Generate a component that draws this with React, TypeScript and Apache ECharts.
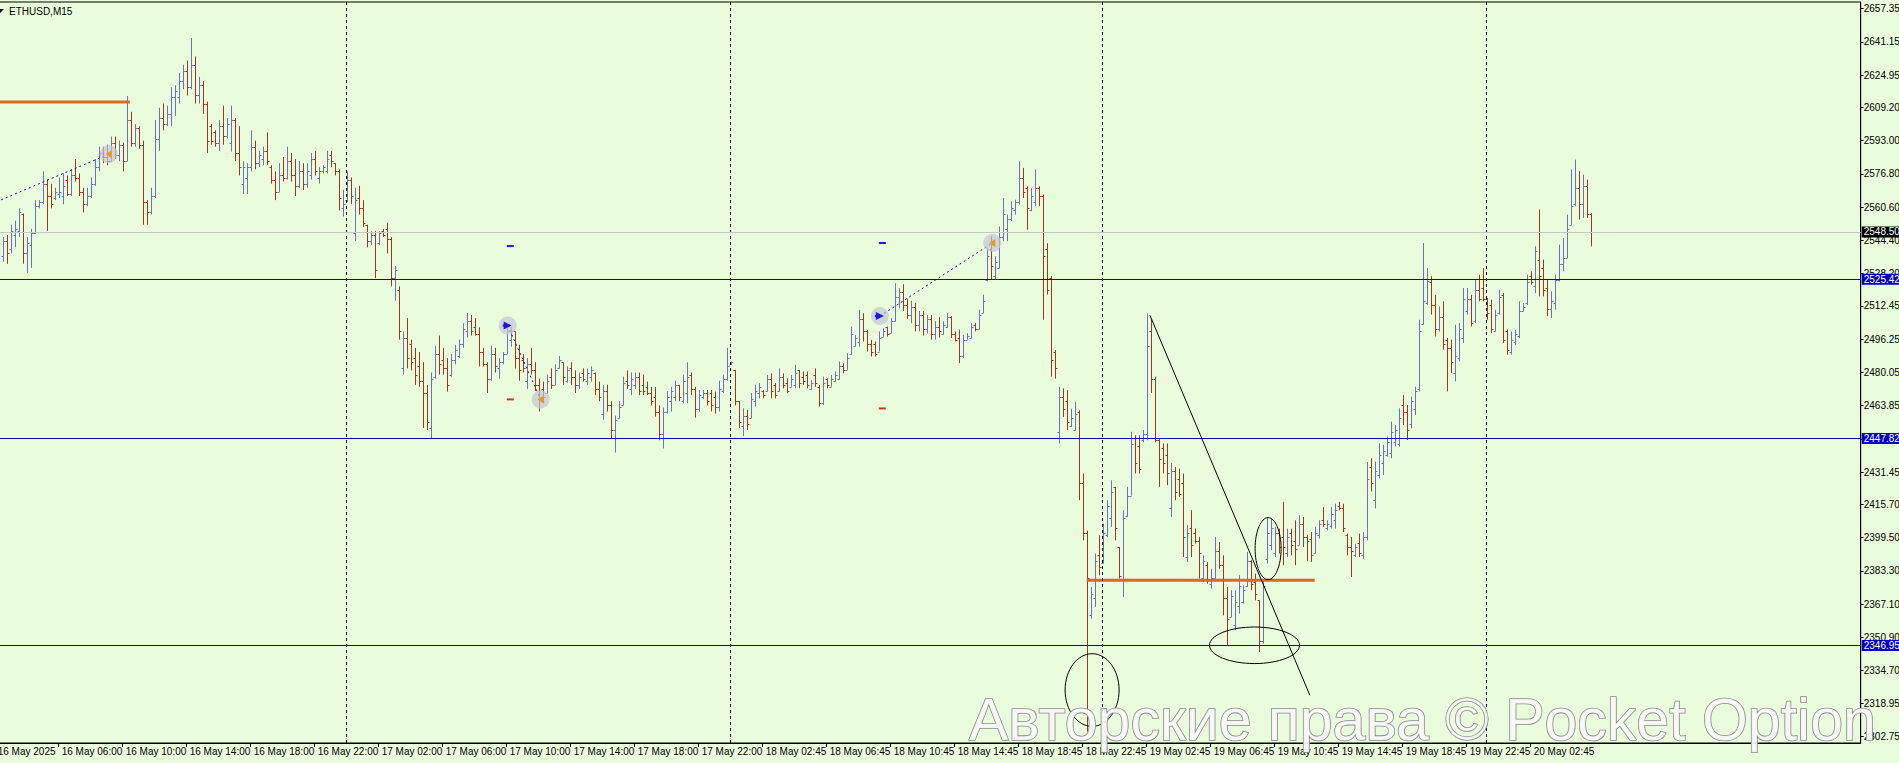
import React, { useEffect, useRef } from 'react';
import * as echarts from 'echarts';

// ---------- DATA ----------
const SYMBOL_TITLE = 'ETHUSD,M15';
const WATERMARK = 'Авторские права © Pocket Option';

// [open, high, low, close] per 15-minute bar
const DAY_16: number[][] = [
  [2537, 2546, 2534, 2544], [2544, 2547, 2533, 2538], [2540, 2552, 2538, 2549], [2547, 2554, 2541, 2550],
  [2549, 2560, 2546, 2558], [2557, 2557.5, 2533, 2538], [2538, 2546, 2528.6, 2543], [2542, 2550, 2531, 2548],
  [2548, 2564, 2547.5, 2561], [2561, 2564, 2560, 2563], [2563, 2578, 2562, 2572], [2572, 2574, 2549, 2566],
  [2566, 2572, 2560, 2562], [2565, 2570, 2564, 2568], [2567, 2575, 2565, 2568], [2566, 2577, 2562, 2571],
  [2574, 2576, 2566, 2567], [2567, 2579, 2566, 2576], [2576, 2584, 2573, 2575], [2575, 2577, 2566, 2568],
  [2568, 2570, 2558, 2562], [2562, 2570, 2561, 2566], [2566, 2575, 2565, 2572], [2572, 2584, 2571, 2580],
  [2580, 2590, 2578, 2587], [2587, 2590, 2582, 2585], [2585, 2591, 2581, 2583], [2583, 2595, 2583, 2592],
  [2592, 2595, 2584, 2586], [2586, 2593, 2583, 2591], [2591, 2592, 2578, 2583], [2583, 2614.7, 2583, 2603],
  [2603, 2607, 2590, 2592], [2592, 2601, 2590, 2599], [2599, 2600, 2589, 2591], [2591, 2593, 2552, 2563],
  [2563, 2564, 2552, 2558], [2558, 2570, 2557, 2566], [2566, 2603, 2565, 2594], [2594, 2609, 2588, 2604],
  [2604, 2611, 2598, 2601], [2601, 2610, 2600, 2606], [2606, 2619, 2600, 2614], [2614, 2620, 2605, 2617],
  [2614, 2626, 2611, 2622], [2622, 2630, 2618, 2627], [2627, 2632, 2615, 2619], [2619, 2643, 2618, 2630],
  [2630, 2634, 2611, 2615], [2615, 2624, 2611, 2620], [2620, 2622, 2606, 2611], [2611, 2612, 2587, 2593],
  [2600, 2601, 2591, 2593], [2597, 2598, 2590, 2592], [2592, 2603, 2588, 2600], [2600, 2610, 2591, 2595],
  [2595, 2604, 2594, 2601], [2592, 2610, 2587.6, 2603], [2603, 2604, 2583, 2587], [2587, 2600, 2576, 2580],
  [2572, 2583, 2567, 2580], [2575, 2582, 2567, 2580], [2580, 2598, 2578, 2590], [2590, 2593, 2579, 2582],
  [2582, 2588, 2580, 2586], [2584, 2590, 2581, 2588], [2588, 2597, 2581, 2583], [2580, 2581, 2572, 2574],
  [2574, 2578, 2564, 2568], [2568, 2582, 2568, 2576], [2576, 2585, 2573, 2575], [2575, 2590, 2574, 2583],
  [2583, 2587, 2573, 2576], [2576, 2584, 2566, 2571], [2571, 2583, 2570, 2578], [2578, 2582, 2569, 2572],
  [2572, 2582, 2570, 2578], [2576, 2587, 2574, 2584], [2584, 2588, 2576, 2578], [2575, 2580, 2572, 2578],
  [2578, 2581, 2577, 2580], [2578, 2588, 2577, 2584], [2586, 2588, 2580, 2583], [2582, 2582, 2576, 2578],
  [2578, 2579, 2559, 2565], [2560, 2569, 2556, 2562],
];

const DAY_17: number[][] = [
  [2564, 2578, 2563, 2574], [2574, 2575, 2562, 2566], [2548, 2570, 2544, 2564], [2565, 2571, 2557, 2560],
  [2560, 2564, 2551, 2553], [2552, 2552, 2541, 2544], [2544, 2549, 2542, 2547], [2547, 2549, 2526, 2530],
  [2543, 2549, 2542, 2548], [2549, 2550, 2546, 2547], [2550, 2553, 2538, 2545], [2545, 2546, 2522, 2526],
  [2526, 2532, 2515, 2530], [2520, 2522, 2496, 2500], [2482, 2500, 2479, 2497], [2497, 2506.5, 2482, 2487],
  [2494, 2496, 2481, 2485], [2487, 2492, 2474, 2479], [2483, 2490, 2473, 2476], [2476, 2485, 2453, 2470],
  [2470, 2474, 2452, 2456], [2453, 2480, 2448, 2477], [2478, 2493, 2477, 2489], [2489, 2498, 2479, 2484],
  [2486, 2492, 2479, 2482], [2482, 2487, 2470.7, 2474], [2479, 2489, 2478, 2486], [2486, 2493.5, 2484, 2491],
  [2488, 2496, 2487, 2494], [2494, 2504, 2492, 2501], [2500, 2509, 2497, 2505], [2505, 2508, 2498, 2500],
  [2502, 2506.5, 2498, 2499], [2499, 2502, 2483, 2490], [2490, 2492, 2483, 2484], [2484, 2485, 2470, 2477],
  [2477, 2493, 2476, 2489], [2489, 2492, 2480, 2483], [2482, 2487, 2477, 2485], [2485, 2490, 2484, 2489],
  [2489, 2502, 2489, 2500], [2496, 2502, 2492.6, 2500], [2500, 2500, 2482, 2487], [2487, 2493.5, 2476, 2481],
  [2486, 2489, 2480, 2482], [2476, 2487, 2472, 2484], [2484, 2492, 2479, 2481], [2481, 2485, 2471, 2474],
  [2474, 2477, 2461, 2467], [2472, 2475.6, 2465, 2468], [2470, 2479, 2470, 2476], [2478, 2482, 2472, 2474],
  [2474, 2484, 2474, 2481], [2482, 2488, 2482, 2486], [2485, 2485, 2474, 2478], [2476, 2483, 2475, 2481],
  [2482, 2485, 2474, 2478], [2478, 2481, 2470, 2474], [2474, 2480, 2472, 2478], [2480, 2482, 2475.6, 2477],
  [2476, 2482, 2474, 2480], [2478, 2483, 2475.6, 2481], [2480, 2480, 2469, 2472], [2472, 2475.6, 2466, 2468],
  [2460, 2474, 2457, 2471], [2471, 2474, 2461, 2464], [2464, 2466, 2448, 2452], [2452, 2459, 2441, 2457],
  [2458, 2466, 2457.7, 2463], [2464, 2478, 2464, 2475], [2476, 2481, 2472, 2474], [2472, 2480, 2469, 2477],
  [2474, 2480, 2472, 2478], [2478, 2480, 2469, 2471], [2474, 2479, 2469, 2471], [2473, 2475.6, 2469, 2470],
  [2470, 2473, 2464, 2466], [2468, 2473, 2458.5, 2461], [2461, 2464, 2447, 2450], [2450, 2463, 2443, 2461],
  [2461, 2471, 2460, 2468], [2466, 2473, 2461, 2471], [2468, 2476, 2466, 2474], [2474, 2474, 2466, 2468],
  [2466, 2479, 2465, 2476], [2470, 2485, 2465, 2478], [2479, 2480, 2469, 2472], [2472, 2473, 2458, 2462],
  [2462, 2471.5, 2461, 2469], [2468, 2471.5, 2467, 2470], [2470, 2471.5, 2464, 2466], [2470, 2471.5, 2461, 2464],
  [2468, 2470.7, 2460, 2463], [2463, 2476, 2461, 2472], [2471, 2479, 2470, 2477], [2477, 2492, 2476, 2483],
];

const DAY_18: number[][] = [
  [2484, 2485.3, 2483.7, 2485], [2481, 2481.3, 2464, 2466], [2466, 2466, 2453, 2456], [2454, 2462.6, 2449, 2459],
  [2459, 2461.8, 2452, 2455], [2458, 2470, 2457.7, 2467], [2466, 2474, 2463.4, 2471], [2470, 2474.8, 2467.4, 2473],
  [2471, 2471.5, 2467.4, 2469], [2471, 2478.8, 2470.7, 2477], [2477, 2479.6, 2467.4, 2471], [2474, 2474.8, 2467.4, 2469],
  [2471, 2482, 2470.7, 2478], [2478, 2479.6, 2472.3, 2474], [2475, 2477.2, 2469.9, 2471], [2473.1, 2478.8, 2473.1, 2477],
  [2474, 2483.7, 2472.3, 2480], [2481, 2481.3, 2472.3, 2475], [2478, 2480.5, 2474, 2476], [2479, 2480.5, 2472.3, 2474],
  [2472, 2476.4, 2471.5, 2475], [2479, 2482, 2473, 2475], [2473, 2474, 2463.4, 2465], [2465, 2478, 2464.2, 2475],
  [2477, 2477.2, 2472.3, 2474], [2473.1, 2478.8, 2473.1, 2477], [2476, 2480.5, 2475.6, 2479], [2477, 2485.3, 2476.4, 2483],
  [2483, 2484.5, 2479.6, 2481], [2481.3, 2489.4, 2481.3, 2487], [2489, 2502.4, 2488.6, 2499], [2493, 2498.3, 2492.6, 2497],
  [2495, 2510.5, 2492.6, 2506], [2506, 2508.9, 2495.1, 2500], [2500, 2500.8, 2490.2, 2494], [2494, 2495.9, 2487.8, 2490],
  [2494, 2495.1, 2487.8, 2489], [2490.2, 2500, 2490.2, 2497], [2497.5, 2501.6, 2497.5, 2500], [2502, 2502.4, 2497.5, 2499],
  [2499.2, 2506.5, 2499.2, 2505], [2505, 2523.5, 2504.8, 2517], [2517, 2521, 2511.3, 2519], [2519, 2523, 2510, 2513],
  [2513, 2516, 2506, 2508], [2508, 2515, 2504, 2512], [2512, 2514, 2500, 2503], [2503, 2510, 2500, 2508],
  [2508, 2510, 2498, 2501], [2501, 2508, 2499, 2506], [2506, 2508, 2496, 2499], [2499, 2505, 2496, 2502],
  [2502, 2507, 2497, 2500], [2499, 2504.9, 2498.4, 2503], [2502, 2509, 2501.7, 2507], [2507, 2507.4, 2496.8, 2499],
  [2499, 2500, 2495.2, 2496], [2497, 2500.9, 2484.6, 2488], [2488, 2498.4, 2487, 2496], [2496, 2499.2, 2496, 2498],
  [2497, 2504.1, 2496.8, 2502], [2503, 2504.1, 2500, 2501], [2501, 2510.6, 2501, 2508], [2509, 2517.9, 2509, 2515],
  [2525, 2540.7, 2524.4, 2537], [2540, 2546.4, 2525.2, 2532], [2527, 2536.6, 2525.2, 2534], [2531, 2551.2, 2530.9, 2546],
  [2546, 2565, 2543.9, 2557], [2550, 2557, 2544, 2555], [2555, 2563.4, 2553.7, 2560], [2559, 2564.2, 2556.9, 2563],
  [2563, 2582.9, 2561.8, 2575], [2575, 2579.7, 2565, 2568], [2570, 2570.7, 2549.6, 2560], [2559, 2569.9, 2558.6, 2566],
  [2563, 2578.9, 2561, 2570], [2570, 2570.7, 2561, 2566], [2566, 2566.7, 2505.7, 2537], [2540, 2543, 2518, 2520],
  [2526, 2527, 2478, 2486], [2490, 2491, 2477, 2482], [2451, 2473, 2445.4, 2468], [2468, 2472.2, 2458.4, 2462],
  [2466, 2471.4, 2451.9, 2456], [2454, 2462.4, 2453.5, 2458], [2452, 2465.7, 2451.9, 2460], [2461, 2461.6, 2417.8, 2426],
  [2426, 2430.8, 2398.2, 2402], [2402, 2403, 2305, 2380], [2362, 2375.5, 2360.1, 2372], [2370, 2391.8, 2365.8, 2388],
  [2391, 2400.7, 2381.2, 2385],
];

const DAY_19: number[][] = [
  [2387, 2406.4, 2386.9, 2402], [2401, 2417.8, 2399.9, 2415], [2409, 2427.5, 2404.8, 2422], [2424, 2424.3, 2398.2, 2404],
  [2395, 2395, 2379.6, 2381], [2379, 2412.9, 2370.6, 2409], [2410, 2424.3, 2409.6, 2420], [2420, 2451.1, 2420, 2445],
  [2448, 2449.4, 2430.8, 2436], [2444, 2449.4, 2430.8, 2433], [2447, 2452, 2446, 2450], [2450, 2508.8, 2447, 2493],
  [2500, 2506, 2470, 2477], [2477, 2478, 2446, 2447], [2447, 2448, 2424.3, 2438], [2443, 2445.4, 2430.8, 2436],
  [2440, 2445.4, 2425.1, 2431], [2414, 2436, 2409.6, 2432], [2432, 2434, 2417.8, 2422], [2428, 2433.2, 2419.4, 2421],
  [2426, 2430.8, 2390.1, 2400], [2390, 2405.6, 2387.7, 2402], [2404, 2412.9, 2390.1, 2396], [2402, 2404, 2396.6, 2398],
  [2398, 2399.9, 2379.6, 2392], [2380, 2390.9, 2377.9, 2388], [2386, 2387.7, 2377.1, 2379], [2377, 2384.4, 2374.7, 2380],
  [2380, 2399.9, 2379.6, 2393], [2393, 2397.4, 2384.4, 2386], [2386, 2390.9, 2361.7, 2370], [2370, 2375.5, 2347.1, 2360],
  [2361, 2373.9, 2360.9, 2371], [2357, 2373.9, 2354.4, 2368], [2366, 2381.2, 2362.5, 2376], [2368, 2376.3, 2367.4, 2374],
  [2376, 2392.6, 2375.5, 2388], [2388, 2388.5, 2373.9, 2377], [2378, 2382, 2369, 2372], [2369, 2369, 2343.8, 2349],
  [2349, 2378.8, 2347.9, 2376], [2389, 2409.6, 2386.9, 2402], [2396, 2408.8, 2393.4, 2404], [2392, 2404.8, 2390.1, 2402],
  [2402, 2403.9, 2391.8, 2395], [2400, 2417, 2386.1, 2395], [2392, 2403.9, 2390.1, 2400], [2402, 2403.9, 2390.9, 2396],
  [2398, 2408, 2386.1, 2394], [2396, 2410.4, 2395.8, 2406], [2406, 2409.6, 2395, 2400], [2400, 2401, 2388, 2398],
  [2399, 2402.3, 2387.7, 2391], [2392, 2404.8, 2391.8, 2402], [2401, 2408, 2399.1, 2406], [2408, 2414.5, 2404.8, 2406],
  [2404, 2408, 2403.1, 2406], [2405, 2414.5, 2404, 2411], [2408, 2416.1, 2404, 2413], [2415, 2416.9, 2412.9, 2414],
  [2414, 2416.1, 2402.3, 2404], [2401, 2401.5, 2390.9, 2395], [2395, 2399.9, 2380.4, 2393], [2391, 2396.6, 2390.1, 2395],
  [2397, 2401.5, 2390.1, 2392], [2391, 2402.3, 2389.3, 2400], [2400, 2436.4, 2398.2, 2428], [2434, 2438.2, 2422, 2426],
  [2418, 2436.6, 2413.8, 2432], [2430, 2445.5, 2428.4, 2440], [2436, 2444.7, 2430.1, 2442], [2440, 2448.8, 2439, 2446],
  [2441, 2456.1, 2438.2, 2451], [2446, 2454.4, 2443.9, 2452], [2445, 2462.6, 2443.9, 2458], [2464, 2469.1, 2454.4, 2461],
  [2461, 2464.2, 2447.1, 2452], [2455, 2468.3, 2452.8, 2466], [2462, 2473.1, 2459.3, 2471], [2472, 2505.7, 2470.8, 2500],
  [2503.5, 2543.1, 2503.3, 2514.7], [2514, 2530.9, 2513, 2524.4], [2524, 2526.9, 2508.2, 2512.8], [2513, 2517.9, 2497.6, 2501],
  [2501, 2512.2, 2500, 2507], [2507, 2514.7, 2491.1, 2494], [2496, 2496.8, 2470.8, 2492], [2492, 2496, 2479.7, 2485],
  [2480, 2503.3, 2475.7, 2488], [2487, 2504.1, 2485.4, 2501], [2497, 2521.2, 2494.4, 2516], [2510, 2521.2, 2508.2, 2516],
  [2516, 2517.9, 2502.5, 2504], [2505, 2525.2, 2504.1, 2520], [2520, 2527.7, 2514.7, 2516], [2521, 2530.9, 2514.7, 2516],
];

const DAY_20: number[][] = [
  [2516, 2516.3, 2505.7, 2509], [2513, 2515.5, 2499.2, 2501], [2500, 2510.6, 2500, 2508], [2509, 2520.4, 2508.2, 2517],
  [2518, 2518.7, 2494.4, 2496], [2500, 2500.9, 2488.7, 2491], [2490, 2500, 2488.7, 2496], [2495, 2500.9, 2493.5, 2499],
  [2498, 2514.7, 2496.8, 2510], [2510, 2513.9, 2509.8, 2512], [2514, 2527.7, 2513, 2524], [2527, 2529.3, 2522.8, 2524],
  [2522, 2541.5, 2518.7, 2539], [2535, 2559.4, 2517.1, 2527], [2531, 2535, 2517.1, 2520], [2521, 2525.2, 2507.4, 2511],
  [2511, 2519.6, 2506.6, 2515], [2514, 2527.7, 2510.6, 2525], [2525, 2542.3, 2524.4, 2533], [2533, 2545.5, 2529.3, 2536],
  [2536, 2556.9, 2535.8, 2550], [2552, 2578.9, 2552, 2561], [2562, 2583.7, 2561, 2570], [2570, 2578.1, 2554.5, 2562],
  [2562, 2576.4, 2555.3, 2571], [2571, 2574, 2555.3, 2557], [2557, 2557.7, 2541.5, 2548.5],
];

const TIME_LABELS = [
  '16 May 2025', '16 May 06:00', '16 May 10:00', '16 May 14:00', '16 May 18:00', '16 May 22:00',
  '17 May 02:00', '17 May 06:00', '17 May 10:00', '17 May 14:00', '17 May 18:00', '17 May 22:00',
  '18 May 02:45', '18 May 06:45', '18 May 10:45', '18 May 14:45', '18 May 18:45', '18 May 22:45',
  '19 May 02:45', '19 May 06:45', '19 May 10:45', '19 May 14:45', '19 May 18:45', '19 May 22:45',
  '20 May 02:45',
];
const PRICE_TICKS = [
  2657.35, 2641.15, 2624.95, 2609.2, 2593.0, 2576.8, 2560.6, 2544.4, 2528.2, 2512.45, 2496.25, 2480.05,
  2463.85, 2447.65, 2431.45, 2415.7, 2399.5, 2383.3, 2367.1, 2350.9, 2334.7, 2318.95, 2302.75,
];
const BID_PRICE = 2548.5;
const BLUE_LEVELS = [2525.42, 2447.82, 2346.95];
// [fromBar, toBar, price]
const ORANGE_LEVELS = [[-4, 31.8, 2611.8], [271, 328, 2378.8]];
// [bar1, price1, bar2, price2]
const TREND_LINES = [[286.8, 2507.95, 326.8, 2322.7]];
// bounding boxes [bar1, price1, bar2, price2]
const ELLIPSES = [[265.6, 2343.0, 279.1, 2307.6], [313.1, 2409.3, 319.6, 2379.1], [301.7, 2356.0, 324.2, 2338.2]];
// trade history [entryBar, entryPrice, exitBar, exitPrice]
const TRADES = [[-5, 2560.3, 26.5, 2586.4], [126.25, 2502.9, 134.5, 2466.9], [219.3, 2507.5, 247.4, 2543.1]];
// [bar, takeProfit, stopLoss]
const STOPS = [[126.9, 2541.6, 2466.9], [219.9, 2543.1, 2462.5]];

// ---------- STYLE ----------
const BG = '#E9FCDB';
const UP = '#6A70C4';
const DOWN = '#A8321A';
const FONT = '"Liberation Sans", Arial, sans-serif';
const BLUE_LINE = '#0000C8';

export default function App() {
  const ref = useRef<HTMLDivElement>(null);

  useEffect(() => {
    if (!ref.current) return;
    const chart = echarts.init(ref.current, undefined, { renderer: 'svg' });

    const days = [DAY_16, DAY_17, DAY_18, DAY_19, DAY_20];
    const bars = days.flat().map((b, i) => [i, b[0], b[1], b[2], b[3]]);
    const separators: number[] = [];
    let acc = 0;
    for (let d = 0; d < days.length - 1; d++) {
      acc += days[d].length;
      separators.push(acc);
    }
    const tickPos = TIME_LABELS.map((_, k) => 16 * k - 2);

    const renderBar = (_p: any, api: any) => {
      const i = api.value(0);
      const o = api.value(1), h = api.value(2), l = api.value(3), c = api.value(4);
      const top = api.coord([i, h]);
      const x = Math.round(top[0]) + 0.5;
      const yL = api.coord([i, l])[1];
      const yO = Math.round(api.coord([i, o])[1]) + 0.5;
      const yC = Math.round(api.coord([i, c])[1]) + 0.5;
      const color = c >= o ? UP : DOWN;
      const st = { stroke: color, lineWidth: 1 };
      return {
        type: 'group',
        children: [
          { type: 'line', shape: { x1: x, y1: top[1], x2: x, y2: yL }, style: st },
          { type: 'line', shape: { x1: x - 2, y1: yO, x2: x, y2: yO }, style: st },
          { type: 'line', shape: { x1: x, y1: yC, x2: x + 2, y2: yC }, style: st },
        ],
      };
    };

    const levelLabel = (bg: string) => ({
      show: true,
      position: 'end',
      distance: 1,
      formatter: (p: any) => Number(p.value).toFixed(2),
      color: '#fff',
      backgroundColor: bg,
      padding: [1, 6, 0, 2],
      fontSize: 10,
      fontFamily: FONT,
    });

    const option: any = {
      animation: false,
      backgroundColor: BG,
      textStyle: { fontFamily: FONT },
      grid: {
        left: -11.3, right: 38.3, top: 2, bottom: 20,
        containLabel: false, outerBoundsMode: 'none',
        show: true, borderColor: '#000', borderWidth: 1,
      },
      xAxis: {
        type: 'value',
        min: -3.5,
        max: 464.5,
        axisLine: { show: true, onZero: false, lineStyle: { color: '#000', width: 1 } },
        axisTick: { show: true, customValues: tickPos, length: 4, lineStyle: { color: '#000' } },
        axisLabel: {
          customValues: tickPos,
          formatter: (v: number) => TIME_LABELS[Math.round((v + 2) / 16)] ?? '',
          align: 'left',
          margin: 3,
          padding: [0, 0, 0, 3],
          color: '#000',
          fontSize: 10,
          fontFamily: FONT,
        },
        splitLine: { show: false },
      },
      yAxis: {
        type: 'value',
        position: 'right',
        min: 2299.49,
        max: 2660.52,
        axisLine: { show: true, onZero: false, lineStyle: { color: '#000', width: 1 } },
        axisTick: { show: true, customValues: PRICE_TICKS, length: 3, lineStyle: { color: '#000' } },
        axisLabel: {
          customValues: PRICE_TICKS,
          formatter: (v: number) => v.toFixed(2),
          margin: 3,
          color: '#000',
          fontSize: 10,
          fontFamily: FONT,
        },
        splitLine: { show: false },
      },
      series: [
        {
          type: 'custom',
          name: 'ETHUSD',
          silent: true,
          clip: true,
          data: bars,
          encode: { x: 0, y: [1, 2, 3, 4] },
          renderItem: renderBar,
          z: 3,
          markLine: {
            silent: true,
            symbol: ['none', 'none'],
            animation: false,
            data: [
              ...separators.map((s) => ({
                xAxis: s,
                lineStyle: { color: '#000', type: [3, 3], width: 1 },
                label: { show: false },
              })),
              { yAxis: BID_PRICE, lineStyle: { color: '#C8C8C8', type: 'solid', width: 1 }, label: levelLabel('#000') },
              ...BLUE_LEVELS.map((v) => ({
                yAxis: v,
                lineStyle: { color: BLUE_LINE, type: 'solid', width: 1 },
                label: levelLabel(BLUE_LINE),
              })),
            ],
          },
        },
        {
          type: 'custom',
          name: 'orange levels',
          silent: true,
          clip: true,
          z: 4,
          data: ORANGE_LEVELS,
          renderItem: (_p: any, api: any) => {
            const a = api.coord([api.value(0), api.value(2)]);
            const b = api.coord([api.value(1), api.value(2)]);
            return {
              type: 'line',
              shape: { x1: a[0], y1: a[1], x2: b[0], y2: b[1] },
              style: { stroke: '#E2661A', lineWidth: 3 },
            };
          },
        },
        {
          type: 'custom',
          name: 'trend',
          silent: true,
          clip: true,
          z: 5,
          data: TREND_LINES,
          renderItem: (_p: any, api: any) => {
            const a = api.coord([api.value(0), api.value(1)]);
            const b = api.coord([api.value(2), api.value(3)]);
            return {
              type: 'line',
              shape: { x1: a[0], y1: a[1], x2: b[0], y2: b[1] },
              style: { stroke: '#000', lineWidth: 1 },
            };
          },
        },
        {
          type: 'custom',
          name: 'ellipses',
          silent: true,
          clip: true,
          z: 5,
          data: ELLIPSES,
          renderItem: (_p: any, api: any) => {
            const a = api.coord([api.value(0), api.value(1)]);
            const b = api.coord([api.value(2), api.value(3)]);
            return {
              type: 'ellipse',
              shape: {
                cx: (a[0] + b[0]) / 2,
                cy: (a[1] + b[1]) / 2,
                rx: Math.abs(b[0] - a[0]) / 2,
                ry: Math.abs(b[1] - a[1]) / 2,
              },
              style: { fill: 'none', stroke: '#000', lineWidth: 1 },
            };
          },
        },
        {
          type: 'custom',
          name: 'stops',
          silent: true,
          clip: true,
          z: 5,
          data: STOPS,
          renderItem: (_p: any, api: any) => {
            const tp = api.coord([api.value(0), api.value(1)]);
            const sl = api.coord([api.value(0), api.value(2)]);
            return {
              type: 'group',
              children: [
                { type: 'line', shape: { x1: tp[0] - 3.5, y1: tp[1], x2: tp[0] + 3.5, y2: tp[1] }, style: { stroke: '#1E1ECC', lineWidth: 2 } },
                { type: 'line', shape: { x1: sl[0] - 3.5, y1: sl[1], x2: sl[0] + 3.5, y2: sl[1] }, style: { stroke: '#D0341E', lineWidth: 2 } },
              ],
            };
          },
        },
        {
          type: 'custom',
          name: 'trades',
          silent: true,
          clip: true,
          z: 6,
          data: TRADES,
          renderItem: (_p: any, api: any) => {
            const a = api.coord([api.value(0), api.value(1)]);
            const b = api.coord([api.value(2), api.value(3)]);
            return {
              type: 'group',
              children: [
                {
                  type: 'line',
                  shape: { x1: a[0], y1: a[1], x2: b[0], y2: b[1] },
                  style: { stroke: '#0A0AA0', lineWidth: 1, lineDash: [2, 3] },
                },
                { type: 'circle', shape: { cx: a[0], cy: a[1], r: 9 }, style: { fill: 'rgba(196,196,214,0.7)' } },
                {
                  type: 'polygon',
                  shape: { points: [[a[0] - 4, a[1] - 4], [a[0] + 4, a[1]], [a[0] - 4, a[1] + 4]] },
                  style: { fill: '#1A1ADC' },
                },
                {
                  type: 'line',
                  shape: { x1: a[0] - 5, y1: a[1], x2: a[0] + 2, y2: a[1] },
                  style: { stroke: '#1A1ADC', lineWidth: 2 },
                },
                { type: 'circle', shape: { cx: b[0], cy: b[1], r: 9 }, style: { fill: 'rgba(196,196,214,0.7)' } },
                {
                  type: 'polygon',
                  shape: { points: [[b[0] + 3, b[1] - 4], [b[0] - 3, b[1]], [b[0] + 3, b[1] + 4]] },
                  style: { fill: '#E89A1C' },
                },
              ],
            };
          },
        },
      ],
      graphic: [
        {
          type: 'polygon',
          shape: { points: [[0, 9], [4, 9], [0, 13]] },
          style: { fill: '#000' },
          z: 50,
        },
        {
          type: 'text',
          x: 9,
          y: 11,
          style: { text: SYMBOL_TITLE, fill: '#000', font: `10px ${FONT}`, verticalAlign: 'middle', align: 'left' },
          z: 50,
        },
        {
          type: 'text',
          x: 969,
          y: 720,
          style: {
            text: WATERMARK,
            font: `59px ${FONT}`,
            fill: 'rgba(248,248,248,0.92)',
            stroke: '#8A8A8A',
            lineWidth: 1.6,
            verticalAlign: 'middle',
            align: 'left',
            shadowBlur: 3,
            shadowColor: 'rgba(0,0,0,0.35)',
            shadowOffsetX: 1,
            shadowOffsetY: 1,
          },
          z: 100,
        },
      ],
    };

    chart.setOption(option);
    return () => chart.dispose();
  }, []);

  return (
    <div
      ref={ref}
      style={{ position: 'fixed', left: 0, top: 0, width: 1899, height: 763, background: BG }}
    />
  );
}
